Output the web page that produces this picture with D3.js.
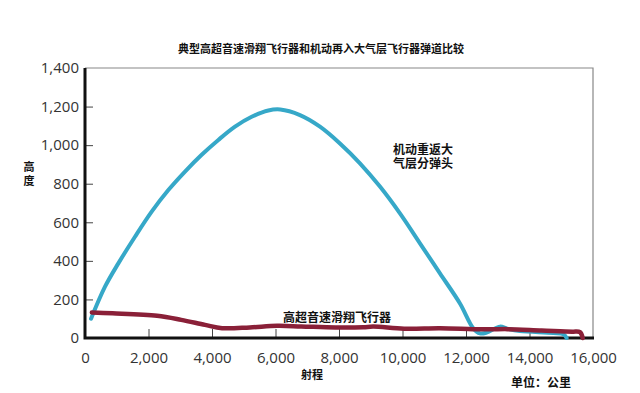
<!DOCTYPE html>
<html>
<head>
<meta charset="utf-8">
<script src="https://cdn.jsdelivr.net/npm/d3@7"></script>
<style>
  body { margin: 0; background: #fff; }
  svg { display: block; }
</style>
</head>
<body>
<svg id="chart" width="640" height="393"></svg>
<script>
// range in km, altitude in km
const xTicks = [0, 2000, 4000, 6000, 8000, 10000, 12000, 14000, 16000]
const yTicks = [0, 200, 400, 600, 800, 1000, 1200, 1400]

const maneuverRange = [190, 630, 1050, 1575, 2100, 2625, 3150, 3675, 4200, 4725, 5250, 5775, 6150, 6770, 7400, 8030, 8660, 9290, 9920, 10550, 11180, 11810, 12230, 12440, 12650, 13070, 13300, 13700, 14750, 15070, 15170]
const maneuverAlt = [100, 266, 387, 525, 655, 767, 863, 950, 1027, 1096, 1147, 1180, 1185, 1156, 1096, 1009, 906, 785, 646, 491, 335, 179, 50, 24, 28, 59, 48, 36, 26, 19, 0]

const glideRange = [216, 865, 2270, 3030, 3780, 4320, 5190, 6050, 6810, 7890, 8760, 9080, 10050, 11180, 12220, 12760, 13300, 14380, 15350, 15590, 15675]
const glideAlt = [132, 128, 115, 94, 68, 51, 55, 63, 60, 55, 56, 59, 48, 50, 46, 45, 46, 39, 33, 30, 0]

const svg = d3.select("#chart")
const cjk = "'Noto Sans CJK SC', sans-serif"

let x = d3.scaleLinear().domain([0, 16000]).range([85, 593])
let y = d3.scaleLinear().domain([0, 1400]).range([338, 68])

// thin frame top / right
svg.append("path")
    .attr("d", `M${x(0)},${y(1400)}H${x(16000)}V${y(0)}`)
    .attr("fill", "none")
    .attr("stroke", "#888")
    .attr("stroke-width", 1.2)

// x axis: ticks pointing up into plot
svg.append("g")
    .attr("transform", `translate(0,${y(0)})`)
    .call(d3.axisBottom(x).tickValues(xTicks).tickSize(-9).tickPadding(14).tickFormat(d3.format(",")))
    .call(g => g.select(".domain").remove())
    .call(g => g.selectAll("line").attr("stroke", "#444").attr("stroke-width", 1)
        .filter(d => d === 0 || d === 16000).remove())
    .call(g => g.selectAll("text")
        .attr("fill", "#333")
        .style("font-family", "'Open Sans', sans-serif")
        .style("font-size", "15px"))

// y axis: ticks pointing right into plot
svg.append("g")
    .attr("transform", `translate(${x(0)},0)`)
    .call(d3.axisLeft(y).tickValues(yTicks).tickSize(-8).tickPadding(6).tickFormat(d3.format(",")))
    .call(g => g.select(".domain").remove())
    .call(g => g.selectAll("line").attr("stroke", "#444").attr("stroke-width", 1)
        .filter(d => d === 0 || d === 1400).remove())
    .call(g => g.selectAll("text")
        .attr("fill", "#333")
        .style("font-family", "'Open Sans', sans-serif")
        .style("font-size", "15px"))

// heavy black axis lines
svg.append("path")
    .attr("d", `M${x(0)},${y(1400)}V${y(0)}H${x(16000) + 1}`)
    .attr("fill", "none")
    .attr("stroke", "#111")
    .attr("stroke-width", 3)

let line = d3.line()
    .x(d => x(d[0]))
    .y(d => y(d[1]))
    .curve(d3.curveCatmullRom.alpha(0.5))

svg.append("path")
    .datum(d3.zip(maneuverRange, maneuverAlt))
    .attr("fill", "none")
    .attr("stroke", "#36a8c8")
    .attr("stroke-width", 4)
    .attr("stroke-linecap", "round")
    .attr("d", line)

svg.append("path")
    .datum(d3.zip(glideRange, glideAlt))
    .attr("fill", "none")
    .attr("stroke", "#8a2038")
    .attr("stroke-width", 4.5)
    .attr("stroke-linecap", "round")
    .attr("d", line)

// texts
function label(tx, ty, s, size, anchor) {
    svg.append("text")
        .attr("x", tx)
        .attr("y", ty)
        .attr("text-anchor", anchor || "middle")
        .attr("dominant-baseline", "central")
        .attr("fill", "#111")
        .style("font-family", cjk)
        .style("font-weight", "bold")
        .style("font-size", size + "px")
        .text(s)
}

label(321, 48, "典型高超音速滑翔飞行器和机动再入大气层飞行器弹道比较", 11)
label(29, 166, "高", 11)
label(29, 180, "度", 11)
label(393, 148, "机动重返大", 12, "start")
label(393, 162, "气层分弹头", 12, "start")
label(337, 316, "高超音速滑翔飞行器", 12)
label(312, 374, "射程", 11)
label(541, 381, "单位：公里", 12)
</script>
</body>
</html>
